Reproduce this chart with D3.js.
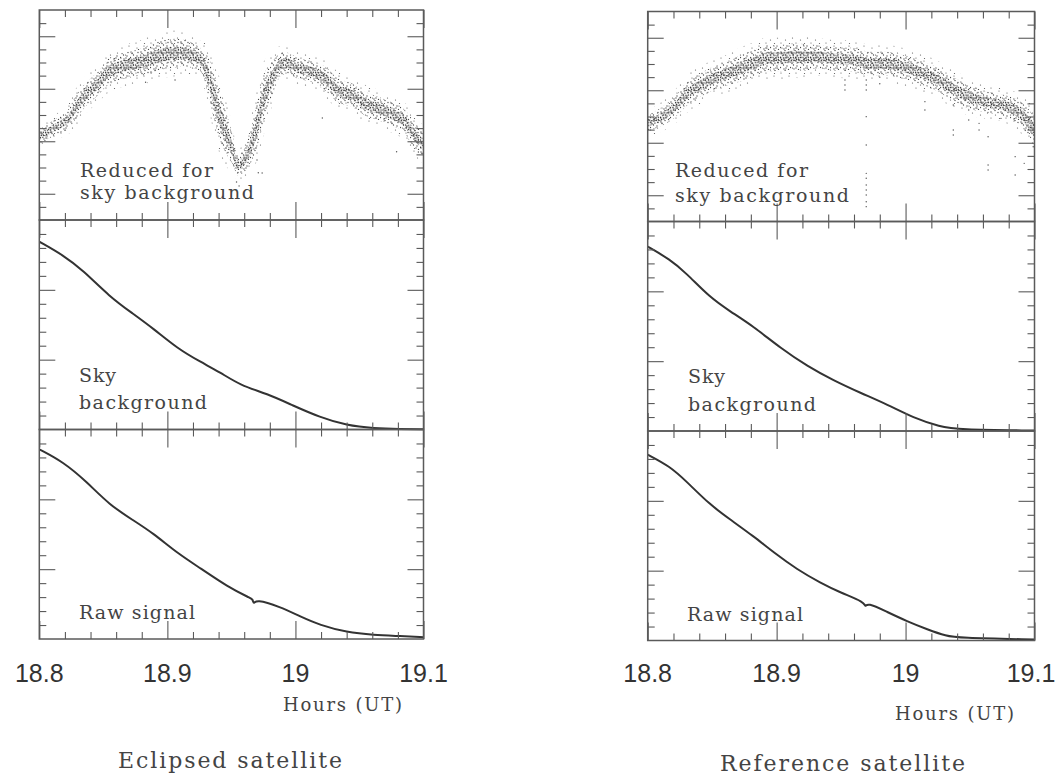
<!DOCTYPE html>
<html lang="en">

<head>
    <meta charset="UTF-8">
    <title>Satellite photometry</title>
    <style>
        body {
            margin: 0;
            background: #fff;
        }

        svg#chart {
            display: block;
        }
    </style>
</head>

<body>
    <script src="https://d3js.org/d3.v7.min.js"></script>
    <script>
        // x axis (hours UT)
        const xTicks = [18.8, 18.9, 19.0, 19.1]
        const xTickLabels = ['18.8', '18.9', '19', '19.1']
        const xMinorTicks = [18.82, 18.84, 18.86, 18.88, 18.92, 18.94, 18.96, 18.98, 19.02, 19.04, 19.06, 19.08]

        // y ticks (no labels in the original)
        const yTopMinor = [1, 3, 4, 5, 7, 8, 9, 11, 12, 13, 15]
        const yTopMajor = [2, 6, 10, 14]
        const yLowMinor = [1, 2, 3, 4, 6, 7, 8, 9, 11, 12, 13, 14]
        const yLowMajor = [5, 10]

        // Eclipsed satellite, reduced for sky background (band centre + half width)
        const eclReducedHours = [18.800, 18.812, 18.822, 18.828, 18.836, 18.846, 18.854, 18.865, 18.875, 18.885,
            18.896, 18.906, 18.916, 18.926, 18.931, 18.936, 18.941, 18.947, 18.951, 18.955, 18.958, 18.963,
            18.967, 18.972, 18.976, 18.982, 18.988, 18.994, 19.002, 19.013, 19.023, 19.033, 19.044, 19.054,
            19.064, 19.074, 19.084, 19.092, 19.100]
        const eclReducedValues = [6.35, 7.06, 7.62, 8.51, 9.52, 10.41, 11.3, 11.73, 11.94, 12.19,
            12.57, 12.70, 12.65, 12.19, 11.17, 9.65, 7.87, 6.35, 5.33, 4.19, 4.32, 5.08,
            6.22, 8.0, 9.52, 10.79, 11.81, 11.94, 11.56, 11.3, 10.79, 9.9, 9.52, 8.89,
            8.51, 8.13, 7.62, 6.6, 5.71]
        const eclReducedSpread = [0.6, 0.6, 0.7, 0.9, 0.9, 0.9, 1.0, 1.0, 1.0, 1.1,
            1.1, 1.1, 1.0, 0.9, 1.4, 1.8, 1.8, 1.5, 1.1, 0.8, 0.8, 1.1,
            1.5, 1.8, 1.7, 1.3, 0.9, 0.8, 0.8, 0.8, 0.9, 0.9, 0.9, 0.9,
            0.9, 0.9, 0.9, 1.0, 0.9]
        const eclReducedOutliers = [[18.954, 2.9], [18.956, 2.6], [18.970, 4.57], [18.974, 3.58], [18.971, 3.6],
            [18.883, 10.5], [18.906, 10.67], [19.021, 7.77], [19.079, 5.2], [19.096, 6.1], [19.096, 5.18]]

        // Eclipsed satellite, sky background
        const eclSkyHours = [18.800, 18.8185, 18.834, 18.855, 18.873, 18.889, 18.908, 18.926, 18.941, 18.957,
            18.978, 18.998, 19.019, 19.040, 19.061, 19.082, 19.100]
        const eclSkyValues = [13.45, 12.49, 11.41, 9.5, 8.3, 7.23, 5.79, 4.83, 4.11, 3.16,
            2.56, 1.72, 0.88, 0.29, 0.08, 0.03, 0.02]

        // Eclipsed satellite, raw signal
        const eclRawHours = [18.800, 18.8185, 18.837, 18.855, 18.873, 18.889, 18.908, 18.926, 18.947, 18.965,
            18.9665, 18.9675, 18.969, 18.988, 19.004, 19.019, 19.040, 19.061, 19.082, 19.100]
        const eclRawValues = [13.58, 12.69, 11.26, 9.59, 8.52, 7.57, 6.13, 5.06, 3.74, 2.91,
            2.88, 2.45, 2.86, 2.31, 1.6, 1.0, 0.48, 0.29, 0.21, 0.12]

        // Reference satellite, reduced for sky background
        const refReducedHours = [18.800, 18.810, 18.820, 18.831, 18.841, 18.851, 18.862, 18.872, 18.882, 18.892,
            18.902, 18.913, 18.923, 18.931, 18.944, 18.961, 18.971, 18.984, 18.998, 19.010, 19.023, 19.036,
            19.049, 19.062, 19.075, 19.087, 19.095, 19.100]
        const refReducedValues = [7.48, 7.94, 8.62, 9.77, 10.4, 10.91, 11.29, 11.67, 12.05, 12.43,
            12.43, 12.56, 12.5, 12.55, 12.4, 12.3, 12.05, 12.05, 11.79, 11.41, 10.91, 10.15,
            9.51, 9.13, 8.88, 8.37, 7.6, 6.97]
        const refReducedSpread = [0.6, 0.7, 0.8, 0.9, 0.9, 0.9, 0.9, 1.0, 1.0, 1.0,
            1.0, 1.0, 1.0, 0.9, 0.9, 0.9, 0.9, 0.9, 0.9, 0.9, 0.9, 0.9,
            0.9, 0.8, 0.8, 0.9, 1.0, 1.0]
        const refReducedOutliers = [[18.9695, 10.78], [18.9695, 10.4], [18.9695, 10.02], [18.9695, 7.99],
            [18.9695, 5.83], [18.9695, 3.67], [18.9695, 3.29], [18.9695, 2.78], [18.9695, 2.4],
            [18.9695, 2.02], [18.9695, 1.51], [18.9695, 1.13], [18.953, 10.78], [18.953, 10.4],
            [18.953, 10.02], [18.980, 11.0], [18.980, 10.5], [19.015, 9.13], [19.015, 8.5],
            [19.037, 8.88], [19.037, 6.97], [19.037, 6.59], [19.049, 8.5], [19.049, 7.73],
            [19.057, 7.48], [19.057, 6.97], [19.064, 6.46], [19.064, 4.3], [19.064, 3.92],
            [19.074, 7.86], [19.085, 4.94], [19.085, 3.54], [19.092, 4.43], [19.099, 5.7]]

        // Reference satellite, sky background
        const refSkyHours = [18.800, 18.817, 18.830, 18.848, 18.864, 18.882, 18.903, 18.924, 18.944, 18.965,
            18.986, 19.006, 19.027, 19.040, 19.100]
        const refSkyValues = [13.2, 12.3, 11.3, 9.58, 8.56, 7.49, 5.94, 4.63, 3.63, 2.73,
            1.89, 0.94, 0.3, 0.1, 0.03]

        // Reference satellite, raw signal
        const refRawHours = [18.800, 18.817, 18.830, 18.848, 18.864, 18.882, 18.898, 18.916, 18.934, 18.950,
            18.968, 18.969, 18.970, 18.986, 19.001, 19.017, 19.032, 19.040, 19.100]
        const refRawValues = [13.31, 12.48, 11.4, 9.74, 8.66, 7.47, 6.28, 5.08, 4.13, 3.41,
            2.76, 2.35, 2.74, 2.03, 1.38, 0.79, 0.31, 0.19, 0.07]

        const width = 1056
        const height = 776
        const ink = '#333'
        const frameInk = '#5a5a5a'
        const serif = '"DejaVu Serif", serif'

        const svg = d3.select('body')
            .append('svg')
            .attr('id', 'chart')
            .attr('width', width)
            .attr('height', height)

        svg.append('rect').attr('width', width).attr('height', height).attr('fill', '#fff')

        const defs = svg.append('defs')
        // speckle textures for the scattered photometry points
        const sparseDots = [[2, 3], [9, 1], [12.5, 8], [5.5, 10], [1, 13], [9.5, 13.5]]
        const lightDots = [[1, 2], [5, 0.5], [8, 2.5], [3.5, 5], [7, 6], [0.5, 7.5], [4, 9], [8.5, 9.5], [2, 3.5], [6, 8]]
        const denseDots = [[1, 1], [4, 0.5], [2.5, 3], [5.5, 2.5], [0.5, 5], [3.5, 5.5], [6, 5], [1.5, 7], [4.5, 7.5], [6.5, 0.5]]
        addPattern('speckleSparse', 15, sparseDots, '#555', 0.6)
        addPattern('speckleLight', 10, lightDots, '#4a4a4a', 0.65)
        addPattern('speckleDense', 7.5, denseDots, '#2a2a2a', 0.75)

        function addPattern(id, size, dots, color, r) {
            const p = defs.append('pattern')
                .attr('id', id)
                .attr('patternUnits', 'userSpaceOnUse')
                .attr('width', size)
                .attr('height', size)
            p.selectAll('circle')
                .data(dots)
                .join('circle')
                .attr('cx', d => d[0])
                .attr('cy', d => d[1])
                .attr('r', r)
                .attr('fill', color)
        }

        const panels = [{
            id: 'ecl',
            x0: 39.3,
            x1: 423.5,
            top: 10,
            title: 'Eclipsed satellite',
            titleX: 118,
            titleY: 768,
            titleLen: 224,
            unitX: 283,
            unitY: 711,
            reduced: zip3(eclReducedHours, eclReducedValues, eclReducedSpread),
            outliers: eclReducedOutliers,
            sky: zip(eclSkyHours, eclSkyValues),
            raw: zip(eclRawHours, eclRawValues),
            labelX: [80, 79, 79],
            labelY: [[176.7, 199.3], [381.7, 409.3], [619.3]]
        }, {
            id: 'ref',
            x0: 647.7,
            x1: 1034.5,
            top: 11.5,
            title: 'Reference satellite',
            titleX: 720,
            titleY: 771,
            titleLen: 245,
            unitX: 895,
            unitY: 720,
            reduced: zip3(refReducedHours, refReducedValues, refReducedSpread),
            outliers: refReducedOutliers,
            sky: zip(refSkyHours, refSkyValues),
            raw: zip(refRawHours, refRawValues),
            labelX: [675, 688, 687],
            labelY: [[176.7, 201.7], [383.3, 410.7], [620.7]]
        }]

        const rowHeights = [210, 209.5, 209.5]

        panels.forEach(drawPanel)

        function zip(hs, vs) {
            return hs.map((h, i) => ({ h, v: vs[i] }))
        }

        function zip3(hs, vs, ss) {
            return hs.map((h, i) => ({ h, v: vs[i], s: ss[i] }))
        }

        function bandArea(x, y, k) {
            return d3.area()
                .x(d => x(d.h))
                .y0(d => y(d.v - d.s * k))
                .y1(d => y(d.v + d.s * k))
                .curve(d3.curveCatmullRom)
        }

        function drawPanel(p) {
            const g = svg.append('g').attr('class', 'panel-' + p.id)
            const x = d3.scaleLinear().domain([18.8, 19.1]).range([p.x0, p.x1])

            let top = p.top
            const rows = rowHeights.map(h => {
                const r = { top, bottom: top + h }
                top += h
                return r
            })

            const yTop = d3.scaleLinear().domain([0, 16]).range([rows[0].bottom, rows[0].top])
            const yMid = d3.scaleLinear().domain([0, 15]).range([rows[1].bottom, rows[1].top])
            const yBot = d3.scaleLinear().domain([0, 15]).range([rows[2].bottom, rows[2].top])

            const clipId = 'clip-' + p.id
            defs.append('clipPath').attr('id', clipId)
                .append('rect')
                .attr('x', p.x0)
                .attr('y', rows[0].top)
                .attr('width', p.x1 - p.x0)
                .attr('height', rows[2].bottom - rows[0].top)

            const plot = g.append('g').attr('clip-path', `url(#${clipId})`)

            // scattered points: fuzzy edge, body, dense core
            plot.append('path')
                .datum(p.reduced)
                .attr('fill', 'url(#speckleSparse)')
                .attr('d', bandArea(x, yTop, 1.6))
            plot.append('path')
                .datum(p.reduced)
                .attr('fill', 'url(#speckleLight)')
                .attr('d', bandArea(x, yTop, 1))
            plot.append('path')
                .datum(p.reduced)
                .attr('fill', 'url(#speckleDense)')
                .attr('d', bandArea(x, yTop, 0.45))
            plot.append('g')
                .selectAll('circle')
                .data(p.outliers)
                .join('circle')
                .attr('cx', d => x(d[0]))
                .attr('cy', d => yTop(d[1]))
                .attr('r', 0.7)
                .attr('fill', '#555')

            drawCurve(plot, p.sky, x, yMid)
            drawCurve(plot, p.raw, x, yBot)

            drawFrame(g, x, yTop, rows[0], yTopMinor, yTopMajor)
            drawFrame(g, x, yMid, rows[1], yLowMinor, yLowMajor)
            drawFrame(g, x, yBot, rows[2], yLowMinor, yLowMajor)

            // in-plot labels
            const labels = [['Reduced for', 'sky background'], ['Sky', 'background'], ['Raw signal']]
            const labelLens = {
                'Reduced for': 133,
                'sky background': 174,
                'Sky': 37,
                'background': 128,
                'Raw signal': 116
            }
            labels.forEach((lines, i) => {
                lines.forEach((t, j) => {
                    g.append('text')
                        .attr('x', p.labelX[i])
                        .attr('y', p.labelY[i][j])
                        .attr('font-family', serif)
                        .attr('font-size', 19)
                        .attr('fill', '#444')
                        .attr('textLength', labelLens[t])
                        .attr('lengthAdjust', 'spacing')
                        .text(t)
                })
            })

            // x tick labels (last one kept inside the page)
            g.append('g')
                .selectAll('text')
                .data(xTicks)
                .join('text')
                .attr('x', d => Math.min(x(d), width - 25))
                .attr('y', 681.5)
                .attr('text-anchor', 'middle')
                .attr('font-family', '"Liberation Sans", Arial, sans-serif')
                .attr('font-size', 25)
                .attr('fill', ink)
                .text((d, i) => xTickLabels[i])

            g.append('text')
                .attr('x', p.unitX)
                .attr('y', p.unitY)
                .attr('font-family', serif)
                .attr('font-size', 18)
                .attr('fill', '#444')
                .attr('textLength', 119)
                .attr('lengthAdjust', 'spacing')
                .text('Hours (UT)')

            g.append('text')
                .attr('x', p.titleX)
                .attr('y', p.titleY)
                .attr('font-family', serif)
                .attr('font-size', 22)
                .attr('fill', '#444')
                .attr('textLength', p.titleLen)
                .attr('lengthAdjust', 'spacing')
                .text(p.title)
        }

        function drawCurve(g, data, x, y) {
            const line = d3.line()
                .x(d => x(d.h))
                .y(d => y(d.v))
                .curve(d3.curveBasis)
            g.append('path')
                .datum(data)
                .attr('fill', 'none')
                .attr('stroke', ink)
                .attr('stroke-width', 2)
                .attr('stroke-linejoin', 'round')
                .attr('d', line)
        }

        function tickAxis(axisFn, scale, values, size) {
            return axisFn(scale)
                .tickValues(values)
                .tickSizeInner(-size)
                .tickSizeOuter(0)
                .tickFormat('')
        }

        function drawFrame(g, x, y, row, yMinor, yMajor) {
            const f = g.append('g').attr('class', 'frame')
            const axes = [
                [d3.axisTop, x, `translate(0,${row.top})`, 'x'],
                [d3.axisBottom, x, `translate(0,${row.bottom})`, 'x'],
                [d3.axisLeft, y, `translate(${x.range()[0]},0)`, 'y'],
                [d3.axisRight, y, `translate(${x.range()[1]},0)`, 'y']
            ]
            axes.forEach(([fn, scale, tr, dir]) => {
                const minor = dir === 'x' ? xMinorTicks : yMinor
                const major = dir === 'x' ? xTicks : yMajor
                const majorLen = dir === 'x' ? 18 : 16
                f.append('g').attr('transform', tr).call(tickAxis(fn, scale, minor, 7))
                f.append('g').attr('transform', tr).call(tickAxis(fn, scale, major, majorLen))
            })
            f.selectAll('.domain, text').remove()
            f.selectAll('.tick line')
                .attr('stroke', frameInk)
                .attr('stroke-width', 1.1)

            f.append('rect')
                .attr('x', x.range()[0])
                .attr('y', row.top)
                .attr('width', x.range()[1] - x.range()[0])
                .attr('height', row.bottom - row.top)
                .attr('fill', 'none')
                .attr('stroke', frameInk)
                .attr('stroke-width', 1.5)
        }
    </script>
</body>

</html>
